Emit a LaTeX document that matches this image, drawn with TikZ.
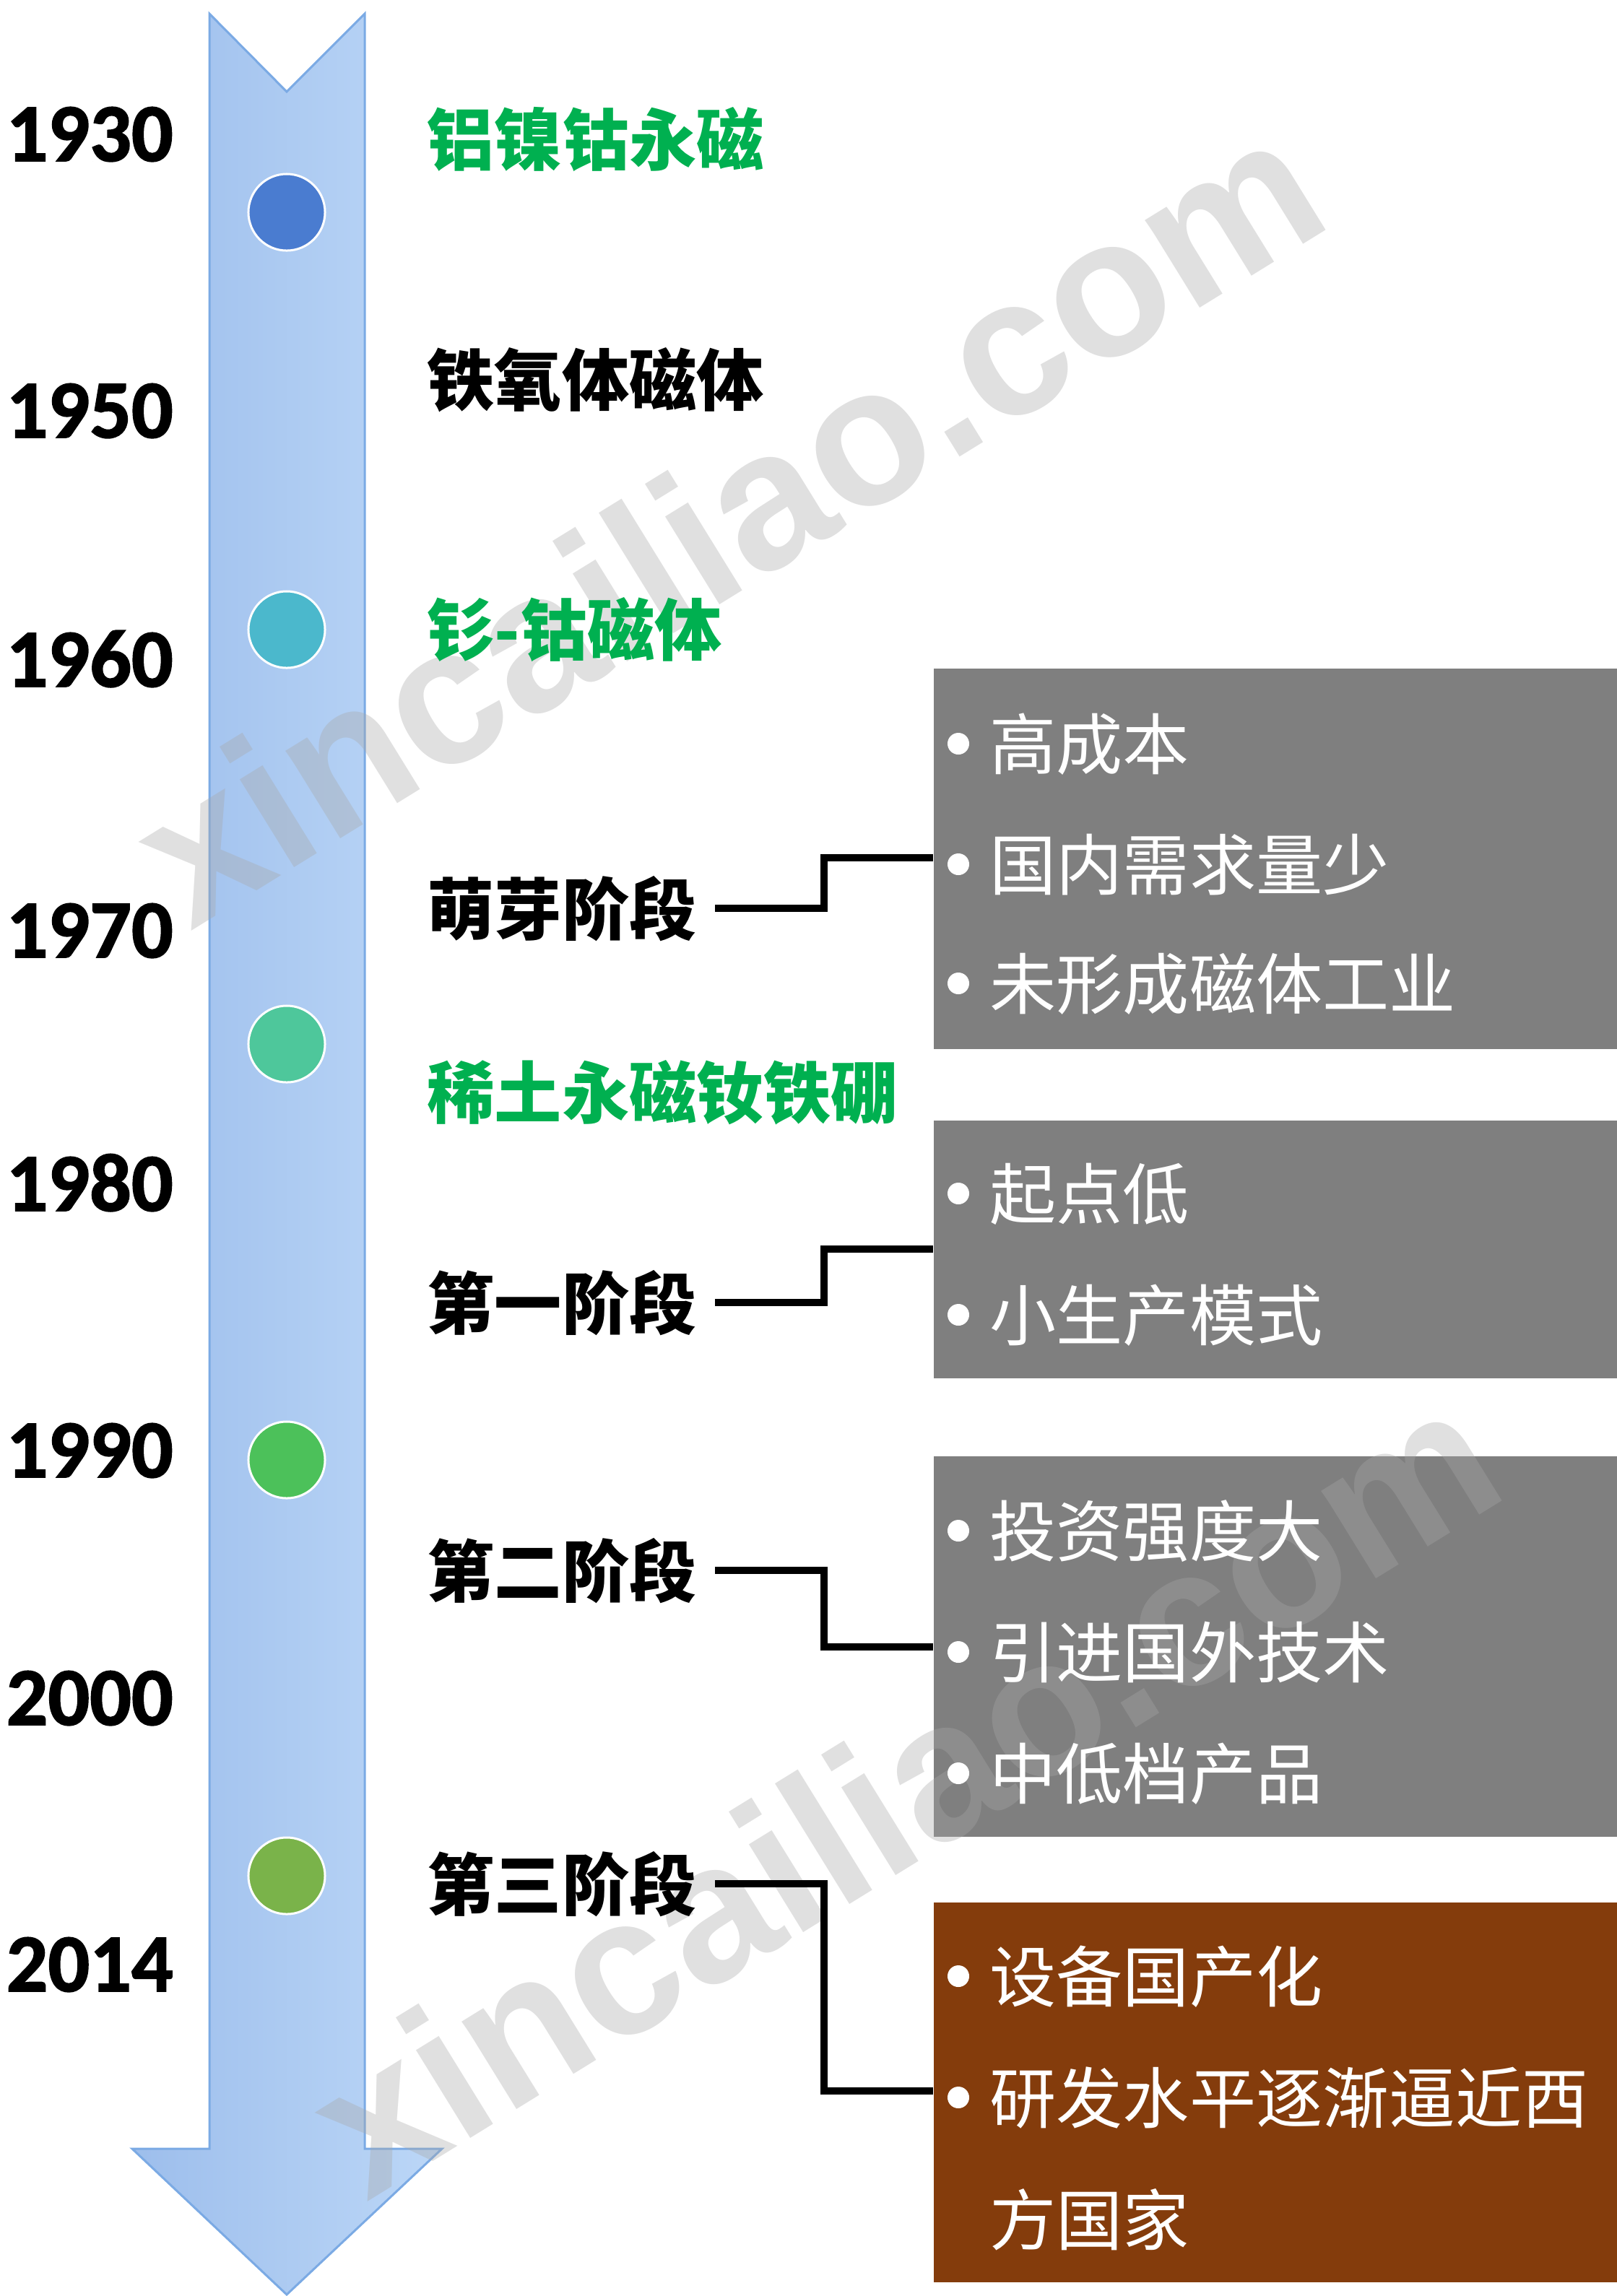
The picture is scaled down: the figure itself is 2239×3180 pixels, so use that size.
\documentclass[tikz,border=0pt]{standalone}
\usepackage{fontspec}
\setmainfont{Carlito}
\newfontfamily\yr{Carlito}[BoldFont={Carlito Bold}, BoldFeatures={FakeBold=1.6}]
\newfontfamily\cjk{Noto Sans CJK SC}
\newfontfamily\wmfont{Liberation Sans}
\definecolor{mgreen}{HTML}{00B050}
\definecolor{boxgray}{HTML}{7F7F7F}
\definecolor{boxbrown}{HTML}{843C0C}
\definecolor{arrL}{HTML}{9DBEEC}
\definecolor{arrR}{HTML}{BCD7F7}
\definecolor{arrB}{HTML}{7BAAE4}
\definecolor{dotA}{HTML}{4A7CD0}
\definecolor{dotB}{HTML}{4BB8CC}
\definecolor{dotC}{HTML}{4EC79B}
\definecolor{dotD}{HTML}{4CC15A}
\definecolor{dotE}{HTML}{7AB34A}
\definecolor{wmgray}{HTML}{A8A8A8}
\tikzset{
  year/.style={anchor=base west, inner sep=0pt, font=\yr\bfseries\fontsize{32.4}{36}\selectfont},
  lab/.style={anchor=base west, inner sep=0pt, font=\cjk\bfseries\fontsize{26.5}{30}\selectfont},
  btxt/.style={anchor=base west, inner sep=0pt, text=white, font=\cjk\fontsize{26.2}{30}\selectfont},
  bul/.style={circle, fill=white, inner sep=0pt, minimum size=0.3cm},
  dot/.style={circle, draw=white, line width=0.03cm, inner sep=0pt, minimum size=1.06cm},
  gbox/.style={rectangle, fill=boxgray, inner sep=0pt, anchor=north west, minimum width=9.47cm},
  conn/.style={draw=black, line width=0.1cm},
  wm/.style={text=wmgray, text opacity=0.36, inner sep=0pt, rotate=31.7, font=\wmfont\bfseries\fontsize{77}{84}\selectfont}
}
\begin{document}
\begin{tikzpicture}[x=0.01cm,y=-0.01cm]
\useasboundingbox (0,0) rectangle (2239,3180);
% arrow
\path[left color=arrL, right color=arrR, draw=arrB, line width=0.03cm, line join=miter]
  (290,19) -- (397,127) -- (505,19) -- (505,2976) -- (612,2976) -- (397,3178)
  -- (183,2976) -- (290,2976) -- cycle;
% boxes
\node[gbox, minimum height=5.27cm] (b1) at (1292,925) {};
\node[gbox, minimum height=3.57cm] (b2) at (1292,1551) {};
\node[gbox, minimum height=5.27cm] (b3) at (1292,2016) {};
\node[gbox, fill=boxbrown, minimum height=5.26cm] (b4) at (1292,2634) {};
% watermark
\node[wm] (wm1) at (1006,718) {xincailiao.com};
\node[wm] (wm2) at (1250,2478) {xincailiao.com};
% dots
\node[dot, fill=dotA] (d1) at (397,294) {};
\node[dot, fill=dotB] (d2) at (397,872) {};
\node[dot, fill=dotC] (d3) at (397,1446) {};
\node[dot, fill=dotD] (d4) at (397,2022) {};
\node[dot, fill=dotE] (d5) at (397,2598) {};
% years
\node[year] (y1) at (8,223) {1930};
\node[year] (y2) at (8,606) {1950};
\node[year] (y3) at (8,951) {1960};
\node[year] (y4) at (8,1326) {1970};
\node[year] (y5) at (8,1677) {1980};
\node[year] (y6) at (8,2046) {1990};
\node[year] (y7) at (8,2389) {2000};
\node[year] (y8) at (8,2758) {2014};
% labels
\node[lab, text=mgreen] (m1) at (591,228) {铝镍钴永磁};
\node[lab] (m2) at (591,561) {铁氧体磁体};
\node[lab, text=mgreen] (m3) at (591,907) {钐-钴磁体};
\node[lab] (s1) at (591,1294) {萌芽阶段};
\node[lab, text=mgreen] (m4) at (591,1548) {稀土永磁钕铁硼};
\node[lab] (s2) at (591,1840) {第一阶段};
\node[lab] (s3) at (591,2211) {第二阶段};
\node[lab] (s4) at (591,2645) {第三阶段};
% connectors
\coordinate (k1) at (1141,1188); \coordinate (e1) at (1292,1188);
\coordinate (k2) at (1141,1730); \coordinate (e2) at (1292,1730);
\coordinate (k3) at (1141,2281); \coordinate (e3) at (1292,2281);
\coordinate (k4) at (1141,2896); \coordinate (e4) at (1292,2896);
\draw[conn] ([xshift=0.25cm]s1.east) -| (k1) -- (e1);
\draw[conn] ([xshift=0.25cm]s2.east) -| (k2) -- (e2);
\draw[conn] ([xshift=0.25cm]s3.east) -| (k3) -- (e3);
\draw[conn] ([xshift=0.25cm]s4.east) -| (k4) -- (e4);
% box 1
\node[bul] (p11) at (1327,1030) {}; \node[btxt] (t11) at (1370,1065) {高成本};
\node[bul] (p12) at (1327,1197) {}; \node[btxt] (t12) at (1370,1232) {国内需求量少};
\node[bul] (p13) at (1327,1362) {}; \node[btxt] (t13) at (1370,1397) {未形成磁体工业};
% box 2
\node[bul] (p21) at (1327,1653) {}; \node[btxt] (t21) at (1370,1688) {起点低};
\node[bul] (p22) at (1327,1821) {}; \node[btxt] (t22) at (1370,1856) {小生产模式};
% box 3
\node[bul] (p31) at (1327,2120) {}; \node[btxt] (t31) at (1370,2155) {投资强度大};
\node[bul] (p32) at (1327,2288) {}; \node[btxt] (t32) at (1370,2323) {引进国外技术};
\node[bul] (p33) at (1327,2456) {}; \node[btxt] (t33) at (1370,2491) {中低档产品};
% box 4
\node[bul] (p41) at (1327,2737) {}; \node[btxt] (t41) at (1370,2772) {设备国产化};
\node[bul] (p42) at (1327,2905) {}; \node[btxt] (t42) at (1370,2940) {研发水平逐渐逼近西};
\node[btxt] (t43) at (1370,3109) {方国家};
\end{tikzpicture}
\end{document}
